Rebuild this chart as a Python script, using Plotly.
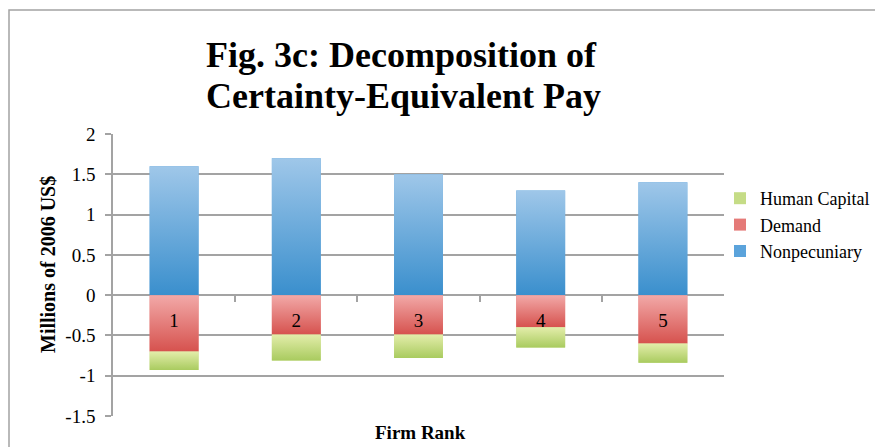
import plotly.graph_objects as go

# ---- data ----
firm_ranks = ["1", "2", "3", "4", "5"]
nonpecuniary = [1.60, 1.70, 1.50, 1.30, 1.40]
demand = [-0.70, -0.49, -0.49, -0.40, -0.60]
human_capital = [-0.23, -0.32, -0.29, -0.25, -0.24]
y_tick_vals = [2, 1.5, 1, 0.5, 0, -0.5, -1, -1.5]
y_tick_text = ["2", "1.5", "1", "0.5", "0", "-0.5", "-1", "-1.5"]

# ---- style / layout (page pixel coordinates) ----
PAGE_W, PAGE_H = 883, 447
OFF = 8  # default body margin of the html page
W, H = PAGE_W - OFF, PAGE_H - OFF
PL, PR, PT, PB = 113, 724, 134, 416  # plot area on the page
ML, MR, MT, MB = PL - OFF, PAGE_W - PR, PT - OFF, PAGE_H - PB
pw, ph = PR - PL, PB - PT
YMIN, YMAX = -1.5, 2.0
BAR_W = 0.4
GRID = "#A3A3A3"
FONT = "Liberation Serif"


def px(x):
    return (x - PL) / pw


def py(y):
    return (PB - y) / ph


colors = {
    "Nonpecuniary": ("#3A8FCD", "#9FC7E9", "#5BA3DB"),
    "Demand": ("#D6524E", "#F2A9A8", "#E57A78"),
    "Human Capital": ("#A9CB5F", "#E3EDAA", "#C5DC86"),
}

x_pos = list(range(len(firm_ranks)))
fig = go.Figure()

series = [
    ("Nonpecuniary", nonpecuniary, [0] * 5, 3),
    ("Demand", demand, [0] * 5, 2),
    ("Human Capital", human_capital, demand, 1),
]

for name, vals, base, rank in series:
    fig.add_trace(go.Bar(
        x=x_pos, y=vals, name=name, width=BAR_W,
        marker=dict(color=colors[name][2], line=dict(width=0)),
        legendrank=rank,
    ))

# gradient overlays computed from the same data
for name, vals, base, rank in series:
    c_bot, c_top, _ = colors[name]
    for i, (v, b) in enumerate(zip(vals, base)):
        y0, y1 = b, b + v
        xs = [i - BAR_W / 2, i + BAR_W / 2, i + BAR_W / 2, i - BAR_W / 2, i - BAR_W / 2]
        ys = [y0, y0, y1, y1, y0]
        fig.add_trace(go.Scatter(
            x=xs, y=ys, mode="lines", fill="toself",
            line=dict(width=0, color=c_bot),
            fillgradient=dict(type="vertical",
                              colorscale=[[0, c_bot], [1, c_top]]),
            showlegend=False, hoverinfo="skip",
        ))

x_axis_pos = (0 - YMIN) / (YMAX - YMIN)

fig.update_layout(
    width=W, height=H,
    margin=dict(l=ML, r=MR, t=MT, b=MB, autoexpand=False),
    barmode="relative",
    plot_bgcolor="white", paper_bgcolor="white",
    font=dict(family=FONT, size=17, color="black"),
    legend=dict(
        x=px(720), xanchor="left",
        y=py(180), yanchor="top",
        font=dict(family=FONT, size=18, color="black"),
        bgcolor="rgba(0,0,0,0)", tracegroupgap=0,
    ),
    xaxis=dict(
        type="linear", range=[-0.5, 4.5],
        anchor="free", position=x_axis_pos,
        tickmode="array", tickvals=x_pos, ticktext=firm_ranks,
        ticks="", showline=False, showgrid=False, zeroline=False,
        tickfont=dict(family=FONT, size=19, color="black"),
        ticklabelstandoff=12,
        minor=dict(tickmode="array", tickvals=[0.5, 1.5, 2.5, 3.5],
                   ticks="outside", ticklen=6, tickcolor=GRID, tickwidth=1.5,
                   showgrid=False),
        fixedrange=True,
    ),
    yaxis=dict(
        range=[YMIN, YMAX], tickmode="array",
        tickvals=y_tick_vals, ticktext=y_tick_text,
        ticks="outside", ticklen=6, tickcolor=GRID, tickwidth=1.5,
        showline=True, linecolor=GRID, linewidth=1.5,
        showgrid=True, gridcolor=GRID, gridwidth=1.5,
        zeroline=True, zerolinecolor=GRID, zerolinewidth=1.5,
        tickfont=dict(family=FONT, size=19, color="black"),
        ticklabelstandoff=6,
        layer="below traces",
        fixedrange=True,
    ),
    annotations=[
        dict(text="<b>Fig. 3c: Decomposition of</b>",
             xref="paper", yref="paper", x=px(401), y=py(55),
             xanchor="center", yanchor="middle", showarrow=False,
             font=dict(family=FONT, size=36, color="black")),
        dict(text="<b>Certainty-Equivalent Pay</b>",
             xref="paper", yref="paper", x=px(403), y=py(96),
             xanchor="center", yanchor="middle", showarrow=False,
             font=dict(family=FONT, size=36, color="black")),
        dict(text="<b>Millions of 2006 US$</b>", textangle=-90,
             xref="paper", yref="paper",
             x=px(48), y=py(265),
             xanchor="center", yanchor="middle", showarrow=False,
             font=dict(family=FONT, size=20, color="black")),
        dict(text="<b>Firm Rank</b>",
             xref="paper", yref="paper",
             x=px(420), y=py(432),
             xanchor="center", yanchor="middle", showarrow=False,
             font=dict(family=FONT, size=19, color="black")),
    ],
    shapes=[
        dict(type="rect", xref="paper", yref="paper",
             x0=px(9), x1=px(PAGE_W + 20),
             y0=py(PAGE_H + 20), y1=py(10),
             line=dict(color=GRID, width=1.5), layer="below"),
    ],
)

fig.write_html("out.html")
